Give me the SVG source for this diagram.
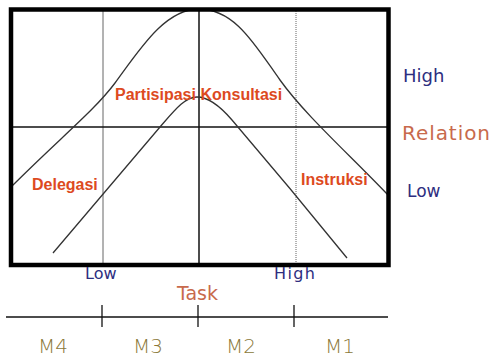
<svg xmlns="http://www.w3.org/2000/svg" width="492" height="359" viewBox="0 0 492 359">
<style>
.curve{fill:none;stroke:#333;stroke-width:1.3}
.lbl{font-family:"Liberation Sans",Arial,sans-serif;font-weight:bold;font-size:16px;fill:#dd4a1e}
.ax{font-family:"DejaVu Sans",Verdana,sans-serif;fill:#2e2e80}
.m{font-family:"DejaVu Sans",Verdana,sans-serif;font-size:20px;font-weight:200;fill:#8a7838;text-anchor:middle}
.rel{font-family:"DejaVu Sans",Verdana,sans-serif;fill:#c86a4c}
</style>
<rect width="492" height="359" fill="#fff"/>
<g id="grid">
<line x1="103" y1="9" x2="103" y2="265" stroke="#666" stroke-width="1"/>
<line x1="199" y1="9" x2="199" y2="265" stroke="#111" stroke-width="1.5"/>
<line x1="296" y1="9" x2="296" y2="265" stroke="#666" stroke-width="1" stroke-dasharray="1,1"/>
<line x1="11" y1="127" x2="388" y2="127" stroke="#111" stroke-width="1.3"/>
</g>
<g id="connectors">
<path class="curve" d="M12,186 C60,138 95,110 115,83 C140,49 165,9 199,9 C235,9 255,45 280,80 C305,115 350,155 389,196"/>
<path class="curve" d="M53,253 C100,198 140,150 160,127 C175,109.75 185,97 197,97 C209,97 220,106 232,120 C250,141 300,200 347,258"/>
</g>
<g id="box">
<rect x="11" y="9.5" width="377.5" height="255.5" fill="none" stroke="#000" stroke-width="4.5"/>
</g>
<g id="partisipasi-konsultasi"><text class="lbl" x="115" y="100">Partisipasi Konsultasi</text></g>
<g id="delegasi"><text class="lbl" x="32" y="190">Delegasi</text></g>
<g id="instruksi"><text class="lbl" x="301" y="185">Instruksi</text></g>
<g id="relation-axis">
<text class="ax" x="403" y="82" font-size="18">High</text>
<text class="rel" x="402" y="140" font-size="20" textLength="88">Relation</text>
<text class="ax" x="407" y="197" font-size="17">Low</text>
</g>
<g id="task-axis">
<text class="ax" x="85" y="279" font-size="16">Low</text>
<text class="ax" x="274" y="279" font-size="16" textLength="41">High</text>
<text class="rel" x="177" y="300" font-size="19">Task</text>
</g>
<g id="scale">
<line x1="6" y1="317" x2="388" y2="317" stroke="#111" stroke-width="1.3"/>
<line x1="102" y1="305" x2="102" y2="327" stroke="#111" stroke-width="1.3"/>
<line x1="198" y1="305" x2="198" y2="327" stroke="#111" stroke-width="1.3"/>
<line x1="294" y1="305" x2="294" y2="327" stroke="#111" stroke-width="1.3"/>
<text class="m" x="53" y="353">M4</text>
<text class="m" x="148" y="353">M3</text>
<text class="m" x="241" y="353">M2</text>
<text class="m" x="340" y="353">M1</text>
</g>
</svg>
